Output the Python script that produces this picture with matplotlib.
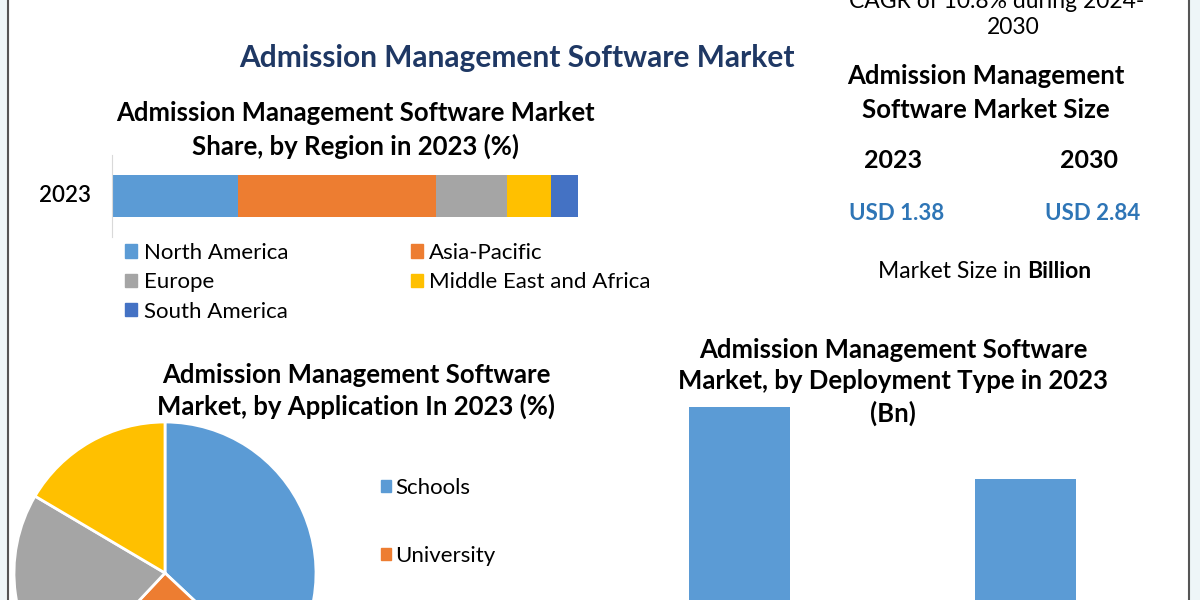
import matplotlib
matplotlib.use("Agg")
import matplotlib.pyplot as plt
from matplotlib.patches import Rectangle, Patch
from matplotlib.lines import Line2D

plt.rcParams['font.family'] = ['Lato', 'DejaVu Sans']

# data
regions = ["North America", "Asia-Pacific", "Europe", "Middle East and Africa", "South America"]
region_share = [27.0, 42.5, 15.3, 9.4, 5.8]
region_colors = ["#5B9BD5", "#ED7D31", "#A5A5A5", "#FFC000", "#4472C4"]

applications = ["Schools", "University", "Colleges", "Others"]
app_share = [37.0, 25.0, 21.5, 16.5]
app_colors = ["#5B9BD5", "#ED7D31", "#A5A5A5", "#FFC000"]

deployment = ["Cloud-based", "On-premise"]
deploy_bn = [0.80, 0.58]

size_years = ["2023", "2030"]
size_values = ["USD 1.38", "USD 2.84"]

W, H = 1200, 600


def fx(x):
    return x / W


def fy(y):
    return 1 - y / H


def box(x0, y0, x1, y1):
    # pixel box (top-left origin) -> figure fraction rect
    return [fx(x0), fy(y1), (x1 - x0) / W, (y1 - y0) / H]


fig = plt.figure(figsize=(12, 6), dpi=100)
fig.patch.set_facecolor("white")

# side strips and frame lines
fig.patches.append(Rectangle((0, 0), fx(8), 1, transform=fig.transFigure, color="#EEF6F8", zorder=0))
fig.patches.append(Rectangle((fx(1190), 0), 1, 1, transform=fig.transFigure, color="#EEF6F8", zorder=0))
fig.add_artist(Line2D([fx(8), fx(8)], [0, 1], color="#555555", lw=1.5))
fig.add_artist(Line2D([fx(1189), fx(1189)], [0, 1], color="#555555", lw=1.5))

navy = "#1F3864"
fig.text(fx(517), fy(58), "Admission Management Software Market", ha="center", va="center",
         fontsize=21.5, fontweight="bold", color=navy)

# --- stacked region bar ---
fig.text(fx(355), fy(130), "Admission Management Software Market\nShare, by Region in 2023 (%)",
         ha="center", va="center", fontsize=18.5, fontweight="bold", linespacing=1.42)
ax1 = fig.add_axes(box(112, 155, 578, 237))
left = 0
for name, val, col in zip(regions, region_share, region_colors):
    ax1.barh(0, val, left=left, height=0.51, color=col, label=name)
    left += val
ax1.set_xlim(0, sum(region_share))
ax1.set_ylim(-0.5, 0.5)
for s in ["top", "right", "bottom"]:
    ax1.spines[s].set_visible(False)
ax1.spines["left"].set_color("#D9D9D9")
ax1.set_xticks([])
ax1.set_yticks([])
fig.text(fx(65), fy(195), "2023", ha="center", va="center", fontsize=16, fontweight="semibold")

order = [0, 2, 4, 1, 3]
handles = [Patch(color=region_colors[i]) for i in order]
labels = [regions[i] for i in order]
fig.legend(handles, labels, ncol=2, loc="upper left", bbox_to_anchor=(fx(116), fy(234)),
           frameon=False, fontsize=16, handlelength=0.55, handleheight=0.55, handletextpad=0.3,
           columnspacing=5.5, labelspacing=0.42, borderaxespad=0)

# --- market size block ---
fig.text(fx(997), fy(1), "CAGR of 10.8% during 2024-", ha="center", va="center", fontsize=16.5)
fig.text(fx(1013), fy(28), "2030", ha="center", va="center", fontsize=16.5)
fig.text(fx(986), fy(93), "Admission Management\nSoftware Market Size", ha="center", va="center",
         fontsize=18.5, fontweight="bold", linespacing=1.45)
for xp, yr, val in zip([893, 1089], size_years, size_values):
    fig.text(fx(xp), fy(161), yr, ha="center", va="center", fontsize=18, fontweight="bold")
    fig.text(fx(xp + 4), fy(214), val, ha="center", va="center", fontsize=16,
             fontweight="bold", color="#2E75B6")
fig.text(fx(1027), fy(271), "Market Size in ", ha="right", va="center", fontsize=16.5)
fig.text(fx(1027), fy(271), "Billion", ha="left", va="center", fontsize=16.5, fontweight="bold")

# --- application pie ---
fig.text(fx(356), fy(391), "Admission Management Software\nMarket, by Application In 2023 (%)",
         ha="center", va="center", fontsize=18.5, fontweight="bold", linespacing=1.35)
ax2 = fig.add_axes(box(14, 422, 316, 724))
ax2.pie(app_share, colors=app_colors, startangle=90, counterclock=False,
        wedgeprops=dict(edgecolor="white", linewidth=2))
ax2.set_xlim(-1, 1)
ax2.set_ylim(-1, 1)
ax2.set_aspect("equal")
# only the first two entries fall inside the frame
ax2.legend([Patch(color=c) for c in app_colors[:2]], applications[:2], loc="upper left",
           bbox_to_anchor=(fx(372), fy(469)), bbox_transform=fig.transFigure, frameon=False,
           fontsize=16, handlelength=0.45, handleheight=0.45, handletextpad=0.2,
           labelspacing=2.15, borderaxespad=0)

# --- deployment bars ---
fig.text(fx(893), fy(382), "Admission Management Software\nMarket, by Deployment Type in 2023\n(Bn)",
         ha="center", va="center", fontsize=18.5, fontweight="bold", linespacing=1.38)
px_per_bn = (669 - 407) / deploy_bn[0]
ax3 = fig.add_axes(box(596, 400, 1169, 669))
ax3.bar(range(len(deployment)), deploy_bn, width=0.353, color="#5B9BD5")
ax3.set_xlim(-0.5, 1.5)
ax3.set_ylim(0, (669 - 400) / px_per_bn)
ax3.axis("off")

fig.savefig("out.png", dpi=100)
